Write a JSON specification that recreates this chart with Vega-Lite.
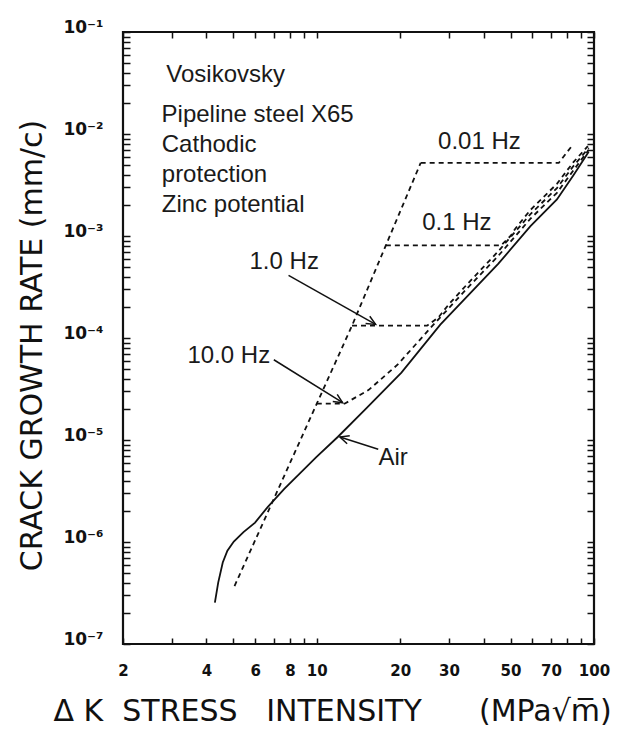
{
  "$schema": "https://vega.github.io/schema/vega-lite/v6.json",
  "width": 471,
  "height": 612,
  "autosize": "none",
  "padding": {"left": 123, "top": 32, "right": 28, "bottom": 90},
  "background": "white",
  "config": {
    "view": {"stroke": "#111", "strokeWidth": 2.2},
    "axis": {"grid": false, "domain": false, "tickColor": "#111", "tickWidth": 1.5, "labelOverlap": false, "labelFlush": false, "labelColor": "#111", "titleColor": "#111"}
  },
  "datasets": {
    "curves": [
      {"series": "Air", "o": 1, "k": 4.29, "rate": 2.55e-7},
      {"series": "Air", "o": 2, "k": 4.41, "rate": 4.0e-7},
      {"series": "Air", "o": 3, "k": 4.58, "rate": 6.3e-7},
      {"series": "Air", "o": 4, "k": 4.76, "rate": 8.2e-7},
      {"series": "Air", "o": 5, "k": 5.02, "rate": 1.01e-6},
      {"series": "Air", "o": 6, "k": 5.44, "rate": 1.25e-6},
      {"series": "Air", "o": 7, "k": 5.99, "rate": 1.55e-6},
      {"series": "Air", "o": 8, "k": 6.65, "rate": 2.2e-6},
      {"series": "Air", "o": 9, "k": 7.62, "rate": 3.3e-6},
      {"series": "Air", "o": 10, "k": 9.96, "rate": 6.8e-6},
      {"series": "Air", "o": 11, "k": 11.9, "rate": 1.07e-5},
      {"series": "Air", "o": 12, "k": 14.96, "rate": 2.0e-5},
      {"series": "Air", "o": 13, "k": 20.2, "rate": 4.57e-5},
      {"series": "Air", "o": 14, "k": 27.9, "rate": 1.35e-4},
      {"series": "Air", "o": 15, "k": 45.2, "rate": 5.35e-4},
      {"series": "Air", "o": 16, "k": 59, "rate": 1.25e-3},
      {"series": "Air", "o": 17, "k": 73.5, "rate": 2.28e-3},
      {"series": "Air", "o": 18, "k": 84.3, "rate": 3.94e-3},
      {"series": "Air", "o": 19, "k": 95.7, "rate": 6.7e-3},
      {"series": "envelope", "o": 1, "k": 5.05, "rate": 3.7e-7},
      {"series": "envelope", "o": 2, "k": 10.0, "rate": 2.27e-5},
      {"series": "envelope", "o": 3, "k": 13.4, "rate": 1.32e-4},
      {"series": "envelope", "o": 4, "k": 17.75, "rate": 8.1e-4},
      {"series": "envelope", "o": 5, "k": 23.7, "rate": 5.2e-3},
      {"series": "10 Hz", "o": 1, "k": 10.0, "rate": 2.27e-5},
      {"series": "10 Hz", "o": 2, "k": 12.6, "rate": 2.27e-5},
      {"series": "10 Hz", "o": 3, "k": 15.4, "rate": 3.1e-5},
      {"series": "10 Hz", "o": 4, "k": 19.6, "rate": 5.5e-5},
      {"series": "10 Hz", "o": 5, "k": 25.6, "rate": 1.24e-4},
      {"series": "10 Hz", "o": 6, "k": 35, "rate": 3.1e-4},
      {"series": "10 Hz", "o": 7, "k": 45.2, "rate": 6.4e-4},
      {"series": "10 Hz", "o": 8, "k": 59, "rate": 1.48e-3},
      {"series": "10 Hz", "o": 9, "k": 73.5, "rate": 2.65e-3},
      {"series": "10 Hz", "o": 10, "k": 84.3, "rate": 4.4e-3},
      {"series": "10 Hz", "o": 11, "k": 95.7, "rate": 7.0e-3},
      {"series": "1.0 Hz", "o": 1, "k": 13.4, "rate": 1.32e-4},
      {"series": "1.0 Hz", "o": 2, "k": 25.0, "rate": 1.32e-4},
      {"series": "1.0 Hz", "o": 3, "k": 27.5, "rate": 1.6e-4},
      {"series": "1.0 Hz", "o": 4, "k": 30, "rate": 2.15e-4},
      {"series": "1.0 Hz", "o": 5, "k": 35, "rate": 3.4e-4},
      {"series": "1.0 Hz", "o": 6, "k": 45.2, "rate": 7.1e-4},
      {"series": "1.0 Hz", "o": 7, "k": 59, "rate": 1.64e-3},
      {"series": "1.0 Hz", "o": 8, "k": 73.5, "rate": 2.95e-3},
      {"series": "1.0 Hz", "o": 9, "k": 84.3, "rate": 4.85e-3},
      {"series": "1.0 Hz", "o": 10, "k": 95.7, "rate": 7.3e-3},
      {"series": "0.1 Hz", "o": 1, "k": 17.75, "rate": 8.1e-4},
      {"series": "0.1 Hz", "o": 2, "k": 46.2, "rate": 8.1e-4},
      {"series": "0.1 Hz", "o": 3, "k": 50, "rate": 1.0e-3},
      {"series": "0.1 Hz", "o": 4, "k": 52, "rate": 1.18e-3},
      {"series": "0.1 Hz", "o": 5, "k": 59, "rate": 1.8e-3},
      {"series": "0.1 Hz", "o": 6, "k": 73.5, "rate": 3.25e-3},
      {"series": "0.1 Hz", "o": 7, "k": 84.3, "rate": 5.3e-3},
      {"series": "0.1 Hz", "o": 8, "k": 95, "rate": 7.6e-3},
      {"series": "0.01 Hz", "o": 1, "k": 23.7, "rate": 5.2e-3},
      {"series": "0.01 Hz", "o": 2, "k": 74.6, "rate": 5.2e-3},
      {"series": "0.01 Hz", "o": 3, "k": 84, "rate": 7.9e-3}
    ],
    "arrows": [
      {"id": "a1", "o": 1, "k": 7.91, "rate": 4.12e-4},
      {"id": "a1", "o": 2, "k": 16.3, "rate": 1.36e-4},
      {"id": "a1h", "o": 1, "k": 15.53, "rate": 1.632e-4},
      {"id": "a1h", "o": 2, "k": 16.3, "rate": 1.36e-4},
      {"id": "a1h", "o": 3, "k": 15.0, "rate": 1.384e-4},
      {"id": "a2", "o": 1, "k": 7.0, "rate": 6.12e-5},
      {"id": "a2", "o": 2, "k": 12.4, "rate": 2.32e-5},
      {"id": "a2h", "o": 1, "k": 11.85, "rate": 2.806e-5},
      {"id": "a2h", "o": 2, "k": 12.4, "rate": 2.32e-5},
      {"id": "a2h", "o": 3, "k": 11.42, "rate": 2.384e-5},
      {"id": "a3", "o": 1, "k": 16.66, "rate": 8.1e-6},
      {"id": "a3", "o": 2, "k": 12.12, "rate": 1.07e-5},
      {"id": "a3h", "o": 1, "k": 12.87, "rate": 9.18e-6},
      {"id": "a3h", "o": 2, "k": 12.12, "rate": 1.07e-5},
      {"id": "a3h", "o": 3, "k": 13.15, "rate": 1.102e-5}
    ],
    "notes": [
      {"label": "Vosikovsky", "k": 2.866, "rate": 3.235e-2},
      {"label": "Pipeline steel X65", "k": 2.755, "rate": 1.312e-2},
      {"label": "Cathodic", "k": 2.76, "rate": 6.66e-3},
      {"label": "protection", "k": 2.76, "rate": 3.384e-3},
      {"label": "Zinc potential", "k": 2.76, "rate": 1.73e-3},
      {"label": "0.01 Hz", "k": 27.39, "rate": 7.1e-3},
      {"label": "0.1 Hz", "k": 24.0, "rate": 1.15e-3},
      {"label": "1.0 Hz", "k": 5.72, "rate": 4.8e-4},
      {"label": "10.0 Hz", "k": 3.415, "rate": 5.75e-5},
      {"label": "Air", "k": 16.7, "rate": 5.7e-6}
    ],
    "decades": [{"rate": 1e-6}, {"rate": 1e-5}, {"rate": 1e-4}, {"rate": 1e-3}, {"rate": 1e-2}],
    "xmajor": [{"k": 10}]
  },
  "layer": [
    {
      "encoding": {
        "x": {
          "field": "k", "type": "quantitative",
          "scale": {"type": "log", "domain": [2, 100], "nice": false, "zero": false},
          "axis": {
            "orient": "bottom",
            "values": [2, 3, 4, 5, 6, 7, 8, 9, 10, 20, 30, 40, 50, 60, 70, 80, 90, 100],
            "format": "d",
            "labelExpr": "indexof([2,4,6,8,10,20,30,50,70,100], datum.value) >= 0 ? datum.label : ''",
            "tickSize": -6,
            "labelFont": "DejaVu Sans", "labelFontWeight": "bold", "labelFontSize": 15,
            "labelPadding": 25,
            "title": "Δ K\u00a0\u00a0STRESS\u00a0\u00a0\u00a0INTENSITY\u00a0\u00a0\u00a0\u00a0\u00a0\u00a0(MPa√m\u0305)",
            "titleFont": "DejaVu Sans", "titleFontSize": 30, "titleFontWeight": "normal",
            "titleX": -70, "titleY": 76, "titleAlign": "left", "titleBaseline": "alphabetic"
          }
        },
        "y": {
          "field": "rate", "type": "quantitative",
          "scale": {"type": "log", "domain": [1e-7, 0.1], "nice": false, "zero": false},
          "axis": {
            "orient": "left",
            "values": [1e-7, 2e-7, 3e-7, 4e-7, 5e-7, 6e-7, 7e-7, 8e-7, 9e-7, 1e-6, 2e-6, 3e-6, 4e-6, 5e-6, 6e-6, 7e-6, 8e-6, 9e-6, 1e-5, 2e-5, 3e-5, 4e-5, 5e-5, 6e-5, 7e-5, 8e-5, 9e-5, 1e-4, 2e-4, 3e-4, 4e-4, 5e-4, 6e-4, 7e-4, 8e-4, 9e-4, 1e-3, 2e-3, 3e-3, 4e-3, 5e-3, 6e-3, 7e-3, 8e-3, 9e-3, 1e-2, 2e-2, 3e-2, 4e-2, 5e-2, 6e-2, 7e-2, 8e-2, 9e-2, 0.1],
            "labelExpr": "abs(log(datum.value)/LN10 - round(log(datum.value)/LN10)) < 0.001 ? '10' + ['⁻⁷','⁻⁶','⁻⁵','⁻⁴','⁻³','⁻²','⁻¹'][round(log(datum.value)/LN10) + 7] : ''",
            "tickSize": -7,
            "labelFont": "DejaVu Sans", "labelFontWeight": "bold", "labelFontSize": 17,
            "labelPadding": 27, "labelBaseline": "middle", "labelOffset": -5,
            "title": "CRACK GROWTH RATE (mm/c)",
            "titleFont": "DejaVu Sans", "titleFontSize": 30, "titleFontWeight": "normal",
            "titleX": -82, "titleY": 313, "titleAngle": 270, "titleAlign": "center", "titleBaseline": "alphabetic"
          }
        }
      },
      "layer": [
        {
          "data": {"name": "curves"},
          "transform": [{"filter": "datum.series == 'Air'"}],
          "mark": {"type": "line", "color": "#111", "strokeWidth": 1.8},
          "encoding": {"order": {"field": "o", "type": "quantitative"}}
        },
        {
          "data": {"name": "curves"},
          "transform": [{"filter": "datum.series != 'Air'"}],
          "mark": {"type": "line", "color": "#111", "strokeWidth": 1.8, "strokeDash": [5, 4]},
          "encoding": {
            "detail": {"field": "series", "type": "nominal"},
            "order": {"field": "o", "type": "quantitative"}
          }
        },
        {
          "data": {"name": "arrows"},
          "mark": {"type": "line", "color": "#111", "strokeWidth": 1.5},
          "encoding": {
            "detail": {"field": "id", "type": "nominal"},
            "order": {"field": "o", "type": "quantitative"}
          }
        },
        {
          "data": {"name": "notes"},
          "mark": {"type": "text", "align": "left", "baseline": "alphabetic", "font": "Liberation Sans", "fontSize": 24, "color": "#1a1a1a"},
          "encoding": {"text": {"field": "label", "type": "nominal"}}
        },
        {
          "data": {"name": "decades"},
          "mark": {"type": "tick", "orient": "horizontal", "size": 24, "thickness": 1.5, "color": "#111", "clip": true},
          "encoding": {"x": {"datum": 2}}
        },
        {
          "data": {"name": "decades"},
          "mark": {"type": "tick", "orient": "horizontal", "size": 24, "thickness": 1.5, "color": "#111", "clip": true},
          "encoding": {"x": {"datum": 100}}
        },
        {
          "data": {"name": "xmajor"},
          "mark": {"type": "tick", "orient": "vertical", "size": 28, "thickness": 1.5, "color": "#111", "clip": true},
          "encoding": {"y": {"datum": 1e-7}}
        },
        {
          "data": {"name": "xmajor"},
          "mark": {"type": "tick", "orient": "vertical", "size": 28, "thickness": 1.5, "color": "#111", "clip": true},
          "encoding": {"y": {"datum": 0.1}}
        }
      ]
    },
    {
      "data": {"name": "curves"},
      "mark": {"type": "point", "opacity": 0},
      "encoding": {
        "x": {
          "field": "k", "type": "quantitative",
          "scale": {"type": "log", "domain": [2, 100], "nice": false, "zero": false},
          "axis": {
            "orient": "top", "labels": false, "title": null,
            "values": [2, 3, 4, 5, 6, 7, 8, 9, 10, 20, 30, 40, 50, 60, 70, 80, 90, 100],
            "tickSize": -6
          }
        },
        "y": {
          "field": "rate", "type": "quantitative",
          "scale": {"type": "log", "domain": [1e-7, 0.1], "nice": false, "zero": false},
          "axis": {
            "orient": "right", "labels": false, "title": null,
            "values": [1e-7, 2e-7, 3e-7, 4e-7, 5e-7, 6e-7, 7e-7, 8e-7, 9e-7, 1e-6, 2e-6, 3e-6, 4e-6, 5e-6, 6e-6, 7e-6, 8e-6, 9e-6, 1e-5, 2e-5, 3e-5, 4e-5, 5e-5, 6e-5, 7e-5, 8e-5, 9e-5, 1e-4, 2e-4, 3e-4, 4e-4, 5e-4, 6e-4, 7e-4, 8e-4, 9e-4, 1e-3, 2e-3, 3e-3, 4e-3, 5e-3, 6e-3, 7e-3, 8e-3, 9e-3, 1e-2, 2e-2, 3e-2, 4e-2, 5e-2, 6e-2, 7e-2, 8e-2, 9e-2, 0.1],
            "tickSize": -7
          }
        }
      }
    }
  ],
  "resolve": {"axis": {"x": "independent", "y": "independent"}}
}
